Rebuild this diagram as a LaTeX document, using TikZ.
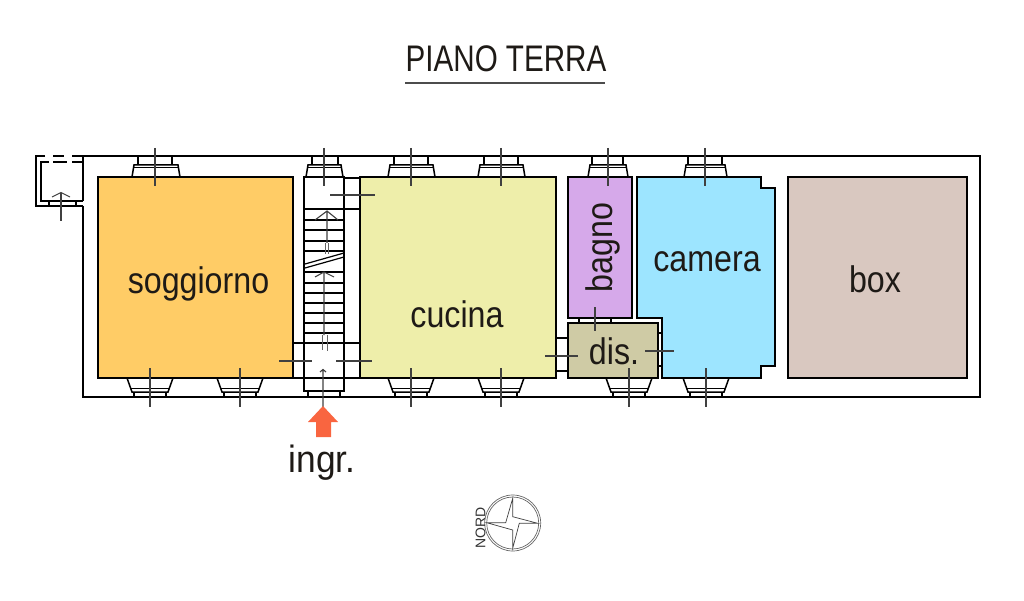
\documentclass[tikz,border=0pt]{standalone}
\usepackage{fontspec}
\setmainfont{Liberation Sans}
\newfontfamily\condT[FakeStretch=0.8]{Liberation Sans}
\newfontfamily\cond[FakeStretch=0.87]{Liberation Sans}
\newfontfamily\condI[FakeStretch=0.93]{Liberation Sans}
\definecolor{csog}{HTML}{FFCC66}
\definecolor{ccuc}{HTML}{EEEEAA}
\definecolor{cbag}{HTML}{D6A9EA}
\definecolor{ccam}{HTML}{9DE5FF}
\definecolor{cbox}{HTML}{D9C8C0}
\definecolor{cdis}{HTML}{CFCBA5}
\definecolor{carr}{HTML}{F96540}
\definecolor{ctxt}{HTML}{1E1A16}
\tikzset{
  wall/.style={draw=black,line width=2pt,line join=miter},
  room/.style={wall},
  win/.style={draw=black,line width=1.5pt},
  axis/.style={draw=black!75,line width=1.1pt},
  thin mark/.style={draw=black!60,line width=0.7pt},
  lbl/.style={text=ctxt,inner sep=0pt,anchor=base,font=\cond\fontsize{37}{37}\selectfont},
}
\newcommand\wintop[5]{% centre, narrow left/right, wide left/right
  \draw[win] (#2,156) -- (#2,165) (#3,156) -- (#3,165);
  \draw[win] (#4,177) -- (#4+2,165) -- (#5-2,165) -- (#5,177);
  \draw[win,line width=1pt] (#4+1,168) -- (#5-1,168);
  \draw[axis] (#1,148) -- (#1,186);
}
\newcommand\winbot[1]{%
  \draw[win] (#1-23,378) -- (#1-18,392) -- (#1+18,392) -- (#1+23,378);
  \draw[win,line width=1pt] (#1-19,388.5) -- (#1+19,388.5);
  \draw[win] (#1-16,392) -- (#1-16,397) (#1+16,392) -- (#1+16,397);
  \draw[axis] (#1,368) -- (#1,407);
}
\begin{document}
\begin{tikzpicture}[x=1pt,y=-1pt]
\useasboundingbox (0,0) rectangle (1024,601);
% rooms
\draw[room,fill=csog] (98,177) rectangle (293,378);
\draw[room,fill=ccuc] (360,177) rectangle (556,378);
\draw[room,fill=cbag] (568,177) rectangle (632,318);
\draw[room,fill=cdis] (568,323) rectangle (658,378);
\draw[room,fill=ccam] (637,177) -- (761,177) -- (761,188) -- (775,188) -- (775,366) -- (761,366) -- (761,378) -- (662,378) -- (662,318) -- (637,318) -- cycle;
\draw[room,fill=cbox] (788,177) rectangle (967,378);
% outer wall
\draw[wall] (83,206) -- (83,397) -- (980,397) -- (980,156) -- (83,156) -- (83,201);
% balcony
\draw[wall] (45,156) -- (36,156) -- (36,206) -- (83,206);
\draw[wall] (49,162) -- (41,162) -- (41,201) -- (83,201);
\draw[wall] (53,156) -- (64,156) (72,156) -- (83,156);
\draw[wall] (53,162) -- (67,162) (72,162) -- (83,162);
\draw[win] (49,201) -- (49,206) (76,201) -- (76,206);
\draw[axis] (61,193) -- (61,221);
\draw[axis] (52,197) -- (61,192.5) -- (70,197);
% stairs
\draw[wall] (304,378) -- (304,177) -- (344,177) -- (344,378);
\draw[wall] (304,378) -- (344,378);
\draw[wall] (304,378) -- (304,391) -- (344,391) -- (344,378);
\draw[win] (308,391) -- (308,397) (340,391) -- (340,397);
\foreach \s in {209,220,230,241,251,272,283,293,303,313,323,333,343}
  \draw[win] (304,\s) -- (344,\s);
\draw[win,line width=1.2pt] (305,264) -- (344,253) (305,268) -- (344,257);
% stairs doors
\draw[wall] (344,178) -- (360,178) (344,209) -- (360,209);
\draw[wall] (293,343) -- (304,343) (293,378) -- (304,378);
\draw[wall] (344,343) -- (360,343) (344,378) -- (360,378);
\draw[axis] (330,195) -- (375,195);
\draw[axis] (279,361) -- (312,361) (336,361) -- (372,361);
% stair arrows
\draw[axis] (327,211) -- (327,243) (315,220) -- (327,211) -- (338,220);
\draw[thin mark] (325,243) -- (325,254) (328.5,243) -- (328.5,254);
\draw[axis] (324,273) -- (324,335) (315,277) -- (324,272) -- (334,277);
\draw[thin mark] (322.5,335) -- (322.5,350) (327,335) -- (327,351);
\draw[axis] (323,370) -- (323,407) (320,372) -- (323,369.5) -- (326,372);
% door jambs
\draw[wall] (556,338) -- (568,338) (556,371) -- (568,371);
\draw[axis] (545,356) -- (578,356);
\draw[wall] (579,318) -- (579,323) (611,318) -- (611,323);
\draw[axis] (595,307) -- (595,331);
\draw[wall] (658,333) -- (662,333) (658,366) -- (662,366);
\draw[axis] (645,351) -- (674,351);
% windows
\wintop{155}{138}{172}{132}{180}
\wintop{324}{312}{338}{306}{343}
\wintop{411}{394}{428}{388}{435}
\wintop{501}{484}{518}{478}{525}
\wintop{608}{592}{623}{588}{628}
\wintop{705}{688}{722}{684}{727}
\winbot{150}
\winbot{240}
\winbot{411}
\winbot{501}
\winbot{629}
\winbot{706}
% entrance arrow
\fill[carr] (323,406) -- (338,422) -- (331,422) -- (331,437) -- (316,437) -- (316,422) -- (308,422) -- cycle;
% title
\node[lbl,font=\condT\fontsize{37}{37}\selectfont] (title) at (506,72) {PIANO TERRA};
\draw[black!70,line width=1.1pt] (405,83) -- (605,83);
% labels
\node[lbl] (soggiorno) at (198.5,294) {soggiorno};
\node[lbl] (cucina) at (457,327) {cucina};
\node[lbl,rotate=90] (bagno) at (612,247.5) {bagno};
\node[lbl] (dis) at (614,364) {dis.};
\node[lbl] (camera) at (707,272) {camera};
\node[lbl] (box) at (875,292) {box};
\node[lbl,font=\condI\fontsize{38}{38}\selectfont] (ingr) at (322,472) {ingr.};
% compass
\draw[thin mark] (512.7,523) circle[radius=28];
\draw[thin mark] (512.7,523) circle[radius=26];
\draw[thin mark,draw=black!75] (512.7,498.3) -- (505.7,522.7) -- (486.7,522.7) -- (512.7,530) -- (512.7,548.3) -- (519.3,523.3) -- (537.7,523.3) -- (512.7,516.7) -- cycle;
\node[rotate=90,inner sep=0pt,text=black!80,font=\fontsize{14}{14}\selectfont] (nord) at (480.5,528) {NORD};
\end{tikzpicture}
\end{document}
